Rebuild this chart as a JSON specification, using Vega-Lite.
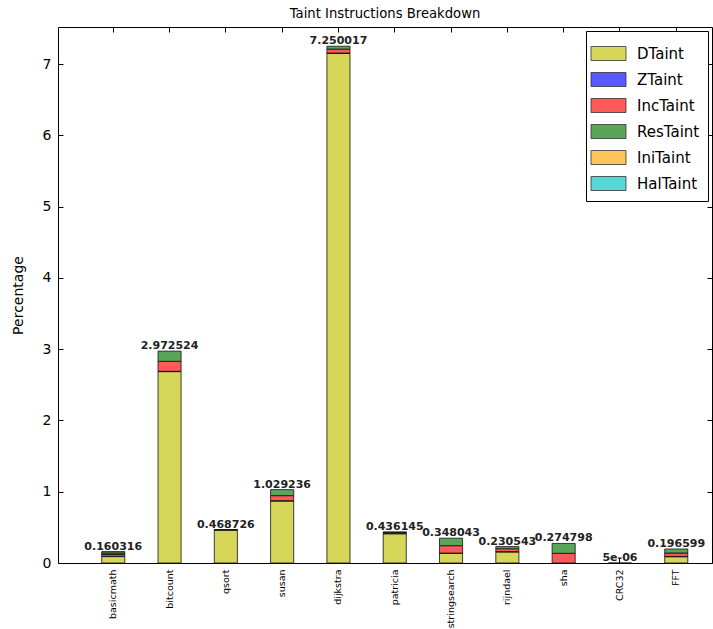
{
  "$schema": "https://vega.github.io/schema/vega-lite/v6.json",
  "autosize": "none",
  "width": 654,
  "height": 536,
  "padding": {"left": 58, "top": 27, "right": 1, "bottom": 66},
  "title": {"text": "Taint Instructions Breakdown", "font": "DejaVu Sans", "fontSize": 13.2, "fontWeight": "normal", "color": "#000", "offset": 5},
  "config": {
    "font": "DejaVu Sans",
    "view": {"stroke": "#000", "strokeWidth": 1},
    "axis": {"grid": false, "domainColor": "#000", "tickColor": "#000", "labelColor": "#000", "labelFont": "DejaVu Sans"}
  },
  "datasets": {
    "segs": [
      {"bench": "basicmath", "type": "DTaint", "value": 0.09},
      {"bench": "basicmath", "type": "ZTaint", "value": 0.03},
      {"bench": "basicmath", "type": "IncTaint", "value": 0.02},
      {"bench": "basicmath", "type": "ResTaint", "value": 0.020316},
      {"bench": "bitcount", "type": "DTaint", "value": 2.685},
      {"bench": "bitcount", "type": "ZTaint", "value": 0.005},
      {"bench": "bitcount", "type": "IncTaint", "value": 0.14},
      {"bench": "bitcount", "type": "ResTaint", "value": 0.142524},
      {"bench": "qsort", "type": "DTaint", "value": 0.462},
      {"bench": "qsort", "type": "ZTaint", "value": 0.003},
      {"bench": "qsort", "type": "ResTaint", "value": 0.003726},
      {"bench": "susan", "type": "DTaint", "value": 0.87},
      {"bench": "susan", "type": "ZTaint", "value": 0.005},
      {"bench": "susan", "type": "IncTaint", "value": 0.07},
      {"bench": "susan", "type": "ResTaint", "value": 0.084236},
      {"bench": "dijkstra", "type": "DTaint", "value": 7.15},
      {"bench": "dijkstra", "type": "ZTaint", "value": 0.005},
      {"bench": "dijkstra", "type": "IncTaint", "value": 0.055},
      {"bench": "dijkstra", "type": "ResTaint", "value": 0.040017},
      {"bench": "patricia", "type": "DTaint", "value": 0.41},
      {"bench": "patricia", "type": "ZTaint", "value": 0.013},
      {"bench": "patricia", "type": "IncTaint", "value": 0.006},
      {"bench": "patricia", "type": "ResTaint", "value": 0.007145},
      {"bench": "stringsearch", "type": "DTaint", "value": 0.136},
      {"bench": "stringsearch", "type": "ZTaint", "value": 0.003},
      {"bench": "stringsearch", "type": "IncTaint", "value": 0.104},
      {"bench": "stringsearch", "type": "ResTaint", "value": 0.105043},
      {"bench": "rijndael", "type": "DTaint", "value": 0.155},
      {"bench": "rijndael", "type": "ZTaint", "value": 0.005},
      {"bench": "rijndael", "type": "IncTaint", "value": 0.04},
      {"bench": "rijndael", "type": "ResTaint", "value": 0.030543},
      {"bench": "sha", "type": "IncTaint", "value": 0.136},
      {"bench": "sha", "type": "ResTaint", "value": 0.138798},
      {"bench": "CRC32", "type": "DTaint", "value": 0.000005},
      {"bench": "FFT", "type": "DTaint", "value": 0.088},
      {"bench": "FFT", "type": "ZTaint", "value": 0.005},
      {"bench": "FFT", "type": "IncTaint", "value": 0.047},
      {"bench": "FFT", "type": "ResTaint", "value": 0.056599}
    ],
    "totals": [
      {"bench": "basicmath", "total": 0.160316, "label": "0.160316"},
      {"bench": "bitcount", "total": 2.972524, "label": "2.972524"},
      {"bench": "qsort", "total": 0.468726, "label": "0.468726"},
      {"bench": "susan", "total": 1.029236, "label": "1.029236"},
      {"bench": "dijkstra", "total": 7.250017, "label": "7.250017"},
      {"bench": "patricia", "total": 0.436145, "label": "0.436145"},
      {"bench": "stringsearch", "total": 0.348043, "label": "0.348043"},
      {"bench": "rijndael", "total": 0.230543, "label": "0.230543"},
      {"bench": "sha", "total": 0.274798, "label": "0.274798"},
      {"bench": "CRC32", "total": 0.000005, "label": "5e-06"},
      {"bench": "FFT", "total": 0.196599, "label": "0.196599"}
    ]
  },
  "resolve": {"axis": {"x": "independent", "y": "independent"}},
  "layer": [
    {
      "data": {"name": "segs"},
      "transform": [
        {"calculate": "indexof(['DTaint','ZTaint','IncTaint','ResTaint','IniTaint','HalTaint'], datum.type)", "as": "k"}
      ],
      "mark": {"type": "bar", "stroke": "#111", "strokeWidth": 0.8},
      "encoding": {
        "x": {
          "field": "bench", "type": "nominal",
          "sort": ["basicmath","bitcount","qsort","susan","dijkstra","patricia","stringsearch","rijndael","sha","CRC32","FFT"],
          "scale": {"range": [43.7, 629.8], "paddingInner": 0.59, "paddingOuter": 0},
          "axis": {"orient": "bottom", "title": null, "labelAngle": -90, "labelFontSize": 9.5, "tickSize": -5, "labelPadding": 11, "domain": false}
        },
        "y": {
          "field": "value", "type": "quantitative", "stack": "zero",
          "scale": {"domain": [0, 7.52], "nice": false, "zero": true},
          "axis": {"orient": "left", "title": "Percentage", "titleFontSize": 14, "titleFontWeight": "normal", "titleColor": "#000", "titlePadding": 17, "labelFontSize": 14, "tickSize": -5, "labelPadding": 12, "values": [0,1,2,3,4,5,6,7], "domain": false}
        },
        "color": {
          "field": "type", "type": "nominal",
          "scale": {
            "domain": ["DTaint","ZTaint","IncTaint","ResTaint","IniTaint","HalTaint"],
            "range": ["#d6d659","#5959ff","#ff5959","#59a659","#ffc459","#59d6d6"]
          },
          "legend": {
            "orient": "top-right", "offset": 4, "title": null,
            "symbolType": "M-1.25,-0.5H1.25V0.5H-1.25Z", "symbolSize": 784,
            "symbolStrokeColor": "#333", "symbolStrokeWidth": 0.8, "symbolOpacity": 1,
            "labelFont": "DejaVu Sans", "labelFontSize": 15, "labelColor": "#000",
            "rowPadding": 2, "labelOffset": 14,
            "padding": 8, "strokeColor": "#000", "fillColor": "#fff", "cornerRadius": 0
          }
        },
        "order": {"field": "k", "type": "quantitative"}
      }
    },
    {
      "data": {"name": "totals"},
      "mark": {"type": "text", "baseline": "bottom", "align": "center", "fontWeight": "bold", "fontSize": 11, "color": "#222", "dy": 0},
      "encoding": {
        "x": {
          "field": "bench", "type": "nominal",
          "sort": ["basicmath","bitcount","qsort","susan","dijkstra","patricia","stringsearch","rijndael","sha","CRC32","FFT"],
          "axis": {"orient": "top", "title": null, "labels": false, "tickSize": -5, "domain": false}
        },
        "y": {
          "field": "total", "type": "quantitative",
          "axis": {"orient": "right", "title": null, "labels": false, "tickSize": -5, "values": [0,1,2,3,4,5,6,7], "domain": false}
        },
        "text": {"field": "label"}
      }
    }
  ]
}
